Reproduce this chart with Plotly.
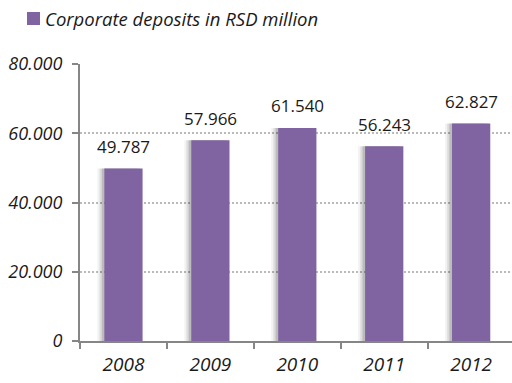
import plotly.graph_objects as go

# Corporate deposits, RSD million
years = ["2008", "2009", "2010", "2011", "2012"]
deposits = [49787, 57966, 61540, 56243, 62827]
y_ticks = [0, 20000, 40000, 60000, 80000]
y_tick_labels = ["0", "20.000", "40.000", "60.000", "80.000"]
series_name = "Corporate deposits in RSD million"

BAR_COLOR = "#8064a2"
FONT = "Open Sans"
W, H = 512, 383
M_L, M_R, M_T, M_B = 80, 0, 64, 42


def px_x(px):
    """Pixel column -> paper x."""
    return (px - M_L) / (W - M_L - M_R)


def px_y(py):
    """Pixel row -> paper y."""
    return (H - M_B - py) / (H - M_T - M_B)


fig = go.Figure()

# soft drop shadow layers behind each bar
for off, alpha in [(-0.30, 0.05), (-0.275, 0.09), (-0.25, 0.15)]:
    fig.add_trace(go.Bar(
        x=years, y=deposits, width=0.44, offset=off,
        marker=dict(color=f"rgba(0,0,0,{alpha})", line=dict(width=0)),
        showlegend=False, hoverinfo="skip",
    ))

fig.add_trace(go.Bar(
    x=years, y=deposits, width=0.44, offset=-0.22,
    marker=dict(color=BAR_COLOR, line=dict(width=0)),
    name=series_name, showlegend=False,
))

# value labels above the bars (x given as category index)
for i, v in enumerate(deposits):
    fig.add_annotation(
        x=i, y=v, yshift=22, showarrow=False,
        text=f"{v:,}".replace(",", "."),
        font=dict(family=FONT, size=17, color="#1a1a1a"),
    )

# legend key: swatch + italic caption
fig.add_shape(
    type="rect", xref="paper", yref="paper",
    x0=px_x(27), x1=px_x(40), y0=px_y(25), y1=px_y(12),
    fillcolor=BAR_COLOR, line=dict(width=0),
)
fig.add_annotation(
    xref="paper", yref="paper", x=px_x(43), y=px_y(18.5),
    xanchor="left", yanchor="middle", showarrow=False,
    text=series_name,
    font=dict(family=FONT, size=18.5, color="#1a1a1a", style="italic"),
)

fig.update_layout(
    width=W, height=H,
    margin=dict(l=M_L, r=M_R, t=M_T, b=M_B, autoexpand=False),
    paper_bgcolor="white", plot_bgcolor="white",
    barmode="overlay",
    showlegend=False,
    font=dict(family=FONT),
)

fig.update_xaxes(
    type="category", range=[-0.5, 4.47],
    showline=True, linecolor="#868686", linewidth=2,
    ticks="outside", tickson="boundaries", ticklen=6, tickcolor="#868686", tickwidth=2,
    tickangle=0, ticklabelstandoff=5,
    tickfont=dict(family=FONT, size=19, color="#1a1a1a", style="italic"),
    showgrid=False,
)

fig.update_yaxes(
    range=[0, 80000], tickvals=y_ticks, ticktext=y_tick_labels,
    showline=True, linecolor="#868686", linewidth=2,
    ticks="outside", ticklen=6, tickcolor="#868686", tickwidth=2,
    ticklabelstandoff=6,
    tickfont=dict(family=FONT, size=18, color="#1a1a1a", style="italic"),
    showgrid=True, gridcolor="#bababa", gridwidth=2, griddash="2px,2px",
    zeroline=False,
)

fig.write_html("out.html")
